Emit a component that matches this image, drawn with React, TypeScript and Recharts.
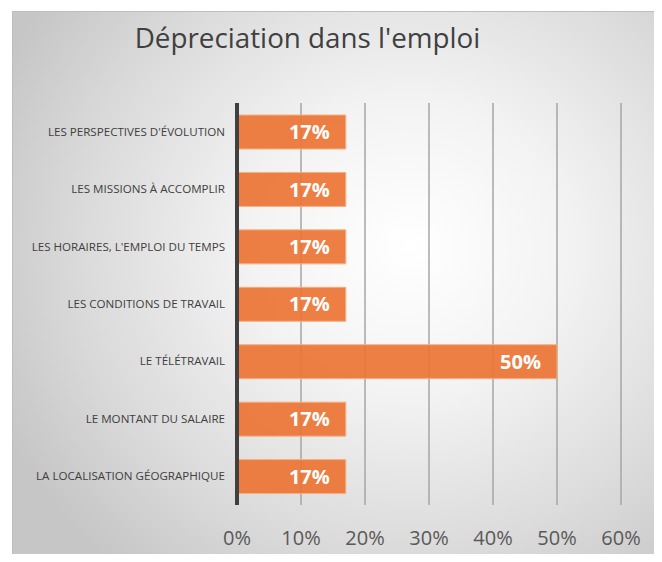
import { BarChart, Bar, XAxis, YAxis, CartesianGrid, LabelList } from "recharts";

const categories = [
	"LES PERSPECTIVES D'ÉVOLUTION",
	"LES MISSIONS À ACCOMPLIR",
	"LES HORAIRES, L'EMPLOI DU TEMPS",
	"LES CONDITIONS DE TRAVAIL",
	"LE TÉLÉTRAVAIL",
	"LE MONTANT DU SALAIRE",
	"LA LOCALISATION GÉOGRAPHIQUE",
];

const values = [0.17, 0.17, 0.17, 0.17, 0.5, 0.17, 0.17];

const xTicks = [0, 0.1, 0.2, 0.3, 0.4, 0.5, 0.6];

const data = categories.map((name, i) => ({ name, value: values[i] }));

const pct = (v: number) => `${Math.round(v * 100)}%`;

const CategoryTick = (props: any) => {
	const { x, y, payload } = props;
	return (
		<text
			x={x - 4}
			y={y}
			dy={4}
			textAnchor="end"
			fontSize={11.6}
			fill="#404040"
			fontFamily="'Open Sans', sans-serif"
		>
			{payload.value}
		</text>
	);
};

const App = () => {
	return (
		<div style={{ position: "relative", width: 662, height: 562, margin: -8, overflow: "hidden", background: "#fff" }}>
			<div
				style={{
					position: "absolute",
					left: 12,
					top: 11,
					width: 660,
					height: 560,
					border: "1px solid #bdbdbd",
					background: "radial-gradient(ellipse 68% 75% at 60% 42%, #ffffff 0%, #f3f3f3 35%, #d9d9d9 75%, #c6c6c6 100%)",
				}}
			/>
			<div
				style={{
					position: "absolute",
					left: 0,
					top: 19,
					width: 615,
					textAlign: "center",
					fontFamily: "'Open Sans', sans-serif",
					fontSize: 27.8,
					color: "#404040",
					lineHeight: "36px",
				}}
			>
				Dépreciation dans l'emploi
			</div>
			<div style={{ position: "absolute", left: 12, top: 12 }}>
				<BarChart
					width={650}
					height={550}
					data={data}
					layout="vertical"
					margin={{ top: 91, right: 41, left: 0, bottom: 17 }}
					barCategoryGap="40%"
				>
					<CartesianGrid horizontal={false} stroke="#a6a6a6" strokeWidth={1.5} />
					<XAxis
						type="number"
						domain={[0, 0.6]}
						ticks={xTicks}
						tickFormatter={pct}
						axisLine={false}
						tickLine={false}
						height={40}
						tick={{ fontSize: 20, fill: "#595959", fontFamily: "'Open Sans', sans-serif", dy: 18 }}
						interval={0}
					/>
					<YAxis
						type="category"
						dataKey="name"
						width={225}
						axisLine={{ stroke: "#404040", strokeWidth: 4 }}
						tickLine={false}
						interval={0}
						tick={<CategoryTick />}
					/>
					<Bar
						dataKey="value"
						fill="#EC7434"
						fillOpacity={0.92}
						stroke="#F4B183"
						strokeWidth={1}
						barSize={34}
						isAnimationActive={false}
					>
						<LabelList
							dataKey="value"
							position="insideRight"
							offset={16}
							formatter={(v: any) => pct(Number(v))}
							style={{ fill: "#ffffff", fontSize: 20, fontWeight: 700, fontFamily: "'Open Sans', sans-serif" }}
						/>
					</Bar>
				</BarChart>
			</div>
		</div>
	);
};

export default App;
